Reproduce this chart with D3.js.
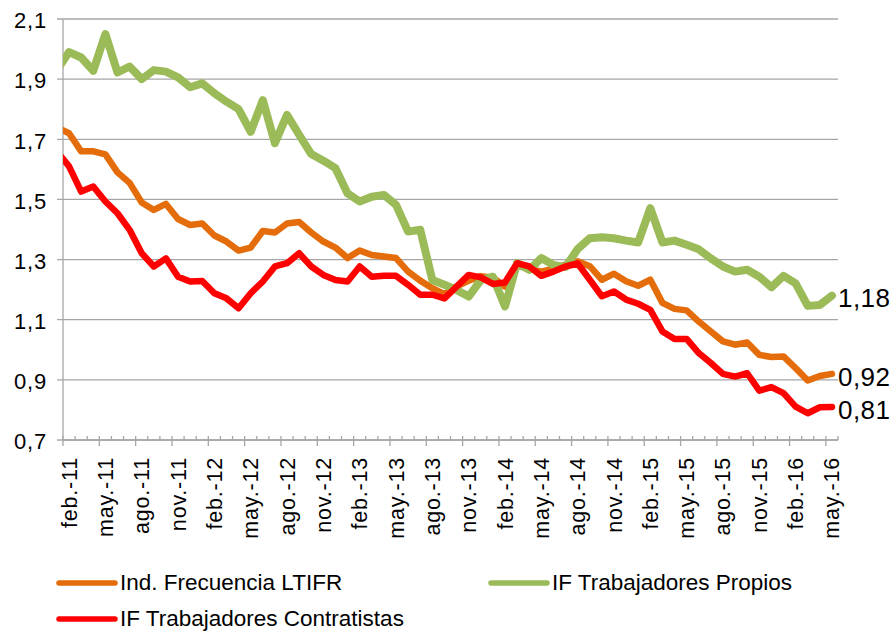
<!DOCTYPE html>
<html>
<head>
<meta charset="utf-8">
<script src="https://cdn.jsdelivr.net/npm/d3@7/dist/d3.min.js"></script>
<style>
    body { margin: 0; background: #fff; }
    text { font-family: "Liberation Sans", Arial, sans-serif; fill: #000; }
</style>
</head>
<body>
<script>
//monthly categories; the first one (ene.-11) lies just left of the axis and gets clipped
var months = [
    "ene.-11","feb.-11","mar.-11","abr.-11","may.-11","jun.-11","jul.-11","ago.-11","sep.-11","oct.-11","nov.-11","dic.-11",
    "ene.-12","feb.-12","mar.-12","abr.-12","may.-12","jun.-12","jul.-12","ago.-12","sep.-12","oct.-12","nov.-12","dic.-12",
    "ene.-13","feb.-13","mar.-13","abr.-13","may.-13","jun.-13","jul.-13","ago.-13","sep.-13","oct.-13","nov.-13","dic.-13",
    "ene.-14","feb.-14","mar.-14","abr.-14","may.-14","jun.-14","jul.-14","ago.-14","sep.-14","oct.-14","nov.-14","dic.-14",
    "ene.-15","feb.-15","mar.-15","abr.-15","may.-15","jun.-15","jul.-15","ago.-15","sep.-15","oct.-15","nov.-15","dic.-15",
    "ene.-16","feb.-16","mar.-16","abr.-16","may.-16"
];

//series values
var ltifr = [
    1.74,1.72,1.66,1.66,1.65,1.59,1.555,1.49,1.465,1.485,1.435,1.415,
    1.42,1.38,1.36,1.33,1.34,1.395,1.39,1.42,1.425,1.39,1.36,1.34,
    1.305,1.33,1.315,1.31,1.305,1.26,1.23,1.205,1.185,1.21,1.23,1.245,
    1.24,1.21,1.28,1.27,1.26,1.27,1.283,1.294,1.278,1.233,1.253,1.228,
    1.213,1.233,1.156,1.136,1.131,1.094,1.061,1.028,1.017,1.024,0.983,0.976,
    0.978,0.939,0.898,0.913,0.92
];
var propios = [
    1.93,1.99,1.972,1.928,2.05,1.922,1.942,1.90,1.93,1.925,1.906,1.873,
    1.886,1.853,1.825,1.80,1.725,1.83,1.687,1.781,1.715,1.651,1.629,1.604,
    1.52,1.493,1.509,1.515,1.482,1.393,1.399,1.232,1.216,1.199,1.177,1.232,
    1.243,1.144,1.288,1.266,1.305,1.282,1.275,1.335,1.371,1.374,1.371,1.363,
    1.357,1.471,1.357,1.363,1.349,1.334,1.304,1.277,1.26,1.266,1.243,1.208,
    1.246,1.221,1.146,1.149,1.18
];
var contratistas = [
    1.66,1.61,1.526,1.543,1.493,1.454,1.399,1.321,1.277,1.304,1.243,1.227,
    1.229,1.188,1.171,1.138,1.188,1.227,1.277,1.288,1.321,1.277,1.249,1.232,
    1.227,1.277,1.243,1.246,1.246,1.216,1.183,1.183,1.171,1.21,1.249,1.241,
    1.219,1.224,1.288,1.277,1.246,1.26,1.277,1.287,1.233,1.178,1.194,1.167,
    1.153,1.133,1.061,1.036,1.036,0.989,0.956,0.92,0.911,0.922,0.864,0.876,
    0.856,0.811,0.789,0.809,0.81
];

var yTicks = [0.7, 0.9, 1.1, 1.3, 1.5, 1.7, 1.9, 2.1];
var seriesNames = ["Ind. Frecuencia LTIFR", "IF Trabajadores Propios", "IF Trabajadores Contratistas"];
var seriesColors = ["#E46C0A", "#9BBB59", "#FF0000"];
var seriesValues = [ltifr, propios, contratistas];

window.onload = function(){

    var w = 896, h = 632;
    var left = 63, right = 838, top = 19, bottom = 440;

    var svg = d3.select("body")
        .append("svg")
        .attr("width", w)
        .attr("height", h);

    //index scale: category k sits at the centre of its slot, feb.-11 (k=1) is the first slot
    var x = d3.scaleLinear()
        .domain([0.5, months.length - 0.5])
        .range([left, right]);

    var y = d3.scaleLinear()
        .domain([0.7, 2.1])
        .range([bottom, top]);

    var comma = function(v){ return d3.format(".1f")(v).replace(".", ","); };

    //clip the plot area
    svg.append("clipPath")
        .attr("id", "plot")
        .append("rect")
        .attr("x", left)
        .attr("y", 0)
        .attr("width", right - left)
        .attr("height", h);

    //horizontal gridlines
    svg.selectAll(".grid")
        .data(yTicks)
        .enter()
        .append("line")
        .attr("class", "grid")
        .attr("x1", left - 6)
        .attr("x2", right)
        .attr("y1", function(d){ return y(d); })
        .attr("y2", function(d){ return y(d); })
        .style("stroke", "#A6A6A6")
        .style("stroke-width", 1.3);

    //y axis line
    svg.append("line")
        .attr("x1", left).attr("x2", left)
        .attr("y1", y(2.1)).attr("y2", y(0.7))
        .style("stroke", "#A6A6A6")
        .style("stroke-width", 1.3);

    //y labels
    svg.selectAll(".ylab")
        .data(yTicks)
        .enter()
        .append("text")
        .attr("class", "ylab")
        .attr("x", 47)
        .attr("y", function(d){ return y(d); })
        .attr("dy", "0.42em")
        .attr("text-anchor", "end")
        .style("font-size", "22px")
        .style("letter-spacing", "0.8px")
        .text(comma);

    //x axis: tick at every slot boundary, longer one every three months
    var bounds = d3.range(0.5, months.length, 1);
    svg.selectAll(".xtick")
        .data(bounds)
        .enter()
        .append("line")
        .attr("class", "xtick")
        .attr("x1", function(d){ return x(d); })
        .attr("x2", function(d){ return x(d); })
        .attr("y1", bottom - 4)
        .attr("y2", function(d, i){ return i % 3 == 0 ? bottom + 6 : bottom; })
        .style("stroke", "#A6A6A6")
        .style("stroke-width", 1.3);

    svg.append("line")
        .attr("x1", left).attr("x2", right)
        .attr("y1", bottom).attr("y2", bottom)
        .style("stroke", "#A6A6A6")
        .style("stroke-width", 1.3);

    //x labels every third month from feb.-11
    var labelIdx = d3.range(1, months.length, 3);
    svg.selectAll(".xlab")
        .data(labelIdx)
        .enter()
        .append("text")
        .attr("class", "xlab")
        .attr("transform", function(d){ return "translate(" + x(d) + "," + (bottom + 17) + ") rotate(-90)"; })
        .attr("dy", "0.35em")
        .attr("text-anchor", "end")
        .style("font-size", "21.5px")
        .style("letter-spacing", "0.8px")
        .text(function(d){ return months[d]; });

    //lines
    var line = d3.line()
        .x(function(d, i){ return x(i); })
        .y(function(d){ return y(d); });

    var widths = [6.5, 8, 6.5];
    svg.append("g")
        .attr("clip-path", "url(#plot)")
        .selectAll(".series")
        .data(seriesValues)
        .enter()
        .append("path")
        .attr("class", "series")
        .attr("d", line)
        .style("fill", "none")
        .style("stroke", function(d, i){ return seriesColors[i]; })
        .style("stroke-width", function(d, i){ return widths[i]; })
        .style("stroke-linejoin", "round")
        .style("stroke-linecap", "round");

    //last value labels
    var last = months.length - 1;
    svg.selectAll(".endlab")
        .data(seriesValues)
        .enter()
        .append("text")
        .attr("class", "endlab")
        .attr("x", x(last) + 6)
        .attr("y", function(d){ return y(d[last]); })
        .attr("dy", "0.45em")
        .style("font-size", "26px")
        .style("letter-spacing", "0.5px")
        .text(function(d){ return d3.format(".2f")(d[last]).replace(".", ","); });

    //legend
    var legendPos = [[57, 583], [489, 583], [57, 619]];
    var legend = svg.selectAll(".legend")
        .data(seriesNames)
        .enter()
        .append("g")
        .attr("class", "legend")
        .attr("transform", function(d, i){ return "translate(" + legendPos[i][0] + "," + legendPos[i][1] + ")"; });

    legend.append("line")
        .attr("x1", 2).attr("x2", 58)
        .attr("y1", 0).attr("y2", 0)
        .style("stroke", function(d, i){ return seriesColors[i]; })
        .style("stroke-width", 5.5)
        .style("stroke-linecap", "round");

    legend.append("text")
        .attr("x", 63)
        .attr("dy", "0.33em")
        .style("font-size", "22.5px")
        .text(function(d){ return d; });
};
</script>
</body>
</html>
